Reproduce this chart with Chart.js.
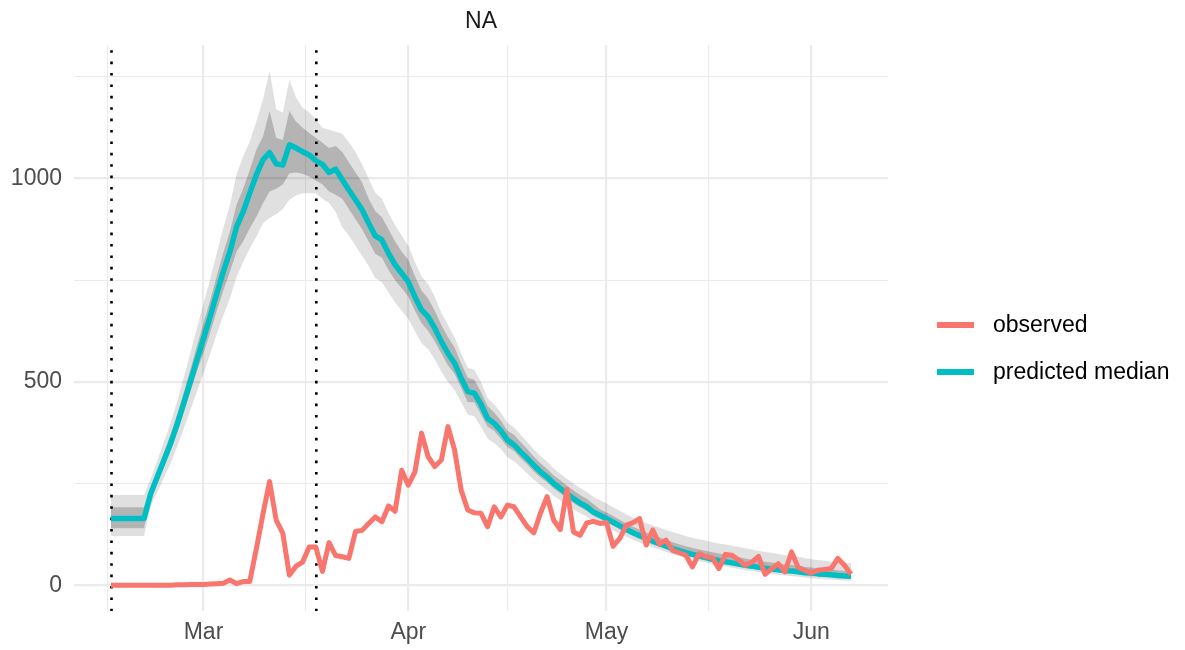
<!DOCTYPE html>
<html>
<head>
<meta charset="utf-8">
<script src="https://cdn.jsdelivr.net/npm/chart.js@4/dist/chart.umd.min.js"></script>
<style>
  html, body { margin: 0; padding: 0; background: #fff; }
</style>
</head>
<body>
<canvas id="chart" width="1185" height="650"></canvas>
<script>
// one value per day, starting at firstDate
const firstDate = '2020-02-16';

const observed = [
  0, 0, 0, 0, 0, 0, 0, 0, 0, 0,
  1, 1, 2, 2,
  2, 3, 4, 5, 13, 4, 9, 9,
  90, 175, 255, 160, 128,
  25, 47, 57, 94, 94, 34, 105, 73, 70, 66,
  132, 135, 152, 168, 156, 195, 182, 283, 246, 279,
  374, 316, 292, 308, 390, 333, 234, 185, 178, 177,
  144, 193, 168, 197, 193, 168, 144, 129, 177, 218,
  160, 137, 236, 131, 123, 153, 157, 152, 154, 96,
  115, 148, 154, 164, 99, 136, 101, 111, 86, 80,
  74, 45, 78, 70, 68, 41, 76, 74, 62, 49,
  57, 71, 27, 41, 53, 33, 82, 44, 37, 30,
  37, 39, 41, 66, 49, 27
];

const predictedMedian = [
  164, 164, 164, 164, 164, 164,
  225, 266, 307, 348, 395, 447, 500, 554,
  607, 660, 717, 771, 820, 881, 918, 964, 1009, 1046,
  1064, 1036, 1033, 1083, 1075, 1066, 1058, 1044, 1035, 1015,
  1023, 997, 972, 948, 923, 890, 859, 849, 816, 788,
  767, 746, 709, 677, 660, 632, 599, 570, 546, 509,
  476, 472, 445, 410, 398, 380, 357, 345, 328, 312,
  295, 279, 266, 250, 238, 225, 213, 202, 193, 180,
  172, 164, 155, 146, 137, 129, 122, 115, 108, 102,
  96, 90, 85, 80, 76, 72, 68, 64, 61, 58,
  55, 52, 49, 47, 44, 42, 40, 38, 36, 35,
  33, 31, 30, 28, 27, 26, 24, 23, 22
];

const upper95 = [
  222, 222, 222, 222, 222, 222,
  262, 306, 352, 398, 452, 510, 570, 632,
  692, 752, 817, 879, 935, 1010, 1054, 1091, 1140, 1194,
  1265, 1170, 1162, 1243, 1199, 1174, 1162, 1145, 1125, 1120,
  1115, 1110, 1090, 1065, 1035, 1000, 965, 950, 915, 885,
  860, 835, 795, 760, 740, 710, 670, 640, 610, 570,
  535, 530, 500, 460, 445, 425, 400, 388, 370, 352,
  334, 318, 304, 287, 274, 262, 250, 239, 230, 217,
  209, 201, 192, 183, 174, 166, 160, 153, 147, 142,
  136, 131, 126, 121, 117, 113, 110, 106, 103, 100,
  97, 94, 91, 88, 85, 82, 80, 77, 74, 72,
  70, 67, 64, 62, 60, 58, 57, 55, 54
];

const upper50 = [
  192, 192, 192, 192, 192, 192,
  240, 283, 326, 370, 420, 474, 530, 588,
  645, 700, 760, 818, 870, 935, 975, 1021, 1071, 1103,
  1166, 1100, 1095, 1166, 1140, 1125, 1112, 1100, 1088, 1075,
  1080, 1065, 1040, 1015, 990, 950, 920, 905, 875, 845,
  820, 800, 760, 725, 705, 675, 640, 610, 585, 545,
  510, 505, 475, 440, 425, 405, 380, 370, 352, 335,
  316, 300, 286, 270, 258, 245, 233, 222, 213, 200,
  187, 179, 170, 161, 152, 144, 137, 130, 124, 118,
  112, 106, 101, 96, 92, 88, 85, 81, 78, 75,
  72, 69, 66, 63, 60, 58, 56, 54, 51, 50,
  48, 45, 44, 42, 40, 39, 37, 36, 35
];

const lower50 = [
  140, 140, 140, 140, 140, 140,
  214, 253, 292, 331, 375, 425, 475, 526,
  571, 620, 674, 725, 771, 820, 845, 878, 906, 939,
  968, 975, 985, 1013, 1015, 1012, 1005, 995, 985, 968,
  960, 950, 925, 900, 875, 845, 815, 805, 775, 750,
  730, 710, 675, 645, 625, 600, 570, 540, 520, 485,
  450, 450, 420, 390, 380, 360, 340, 330, 312, 297,
  280, 265, 253, 238, 226, 214, 202, 192, 183, 171,
  163, 155, 147, 138, 130, 122, 115, 108, 102, 96,
  90, 84, 79, 74, 70, 66, 62, 58, 55, 52,
  49, 46, 43, 41, 38, 36, 34, 32, 30, 29,
  27, 25, 24, 22, 21, 20, 19, 18, 17
];

const lower95 = [
  121, 121, 121, 121, 121, 121,
  194, 229, 264, 299, 340, 384, 430, 476,
  522, 568, 617, 663, 705, 758, 795, 828, 857, 890,
  903, 912, 925, 948, 958, 964, 964, 964, 950, 940,
  918, 880, 860, 835, 810, 785, 755, 745, 720, 695,
  675, 655, 625, 595, 580, 555, 525, 500, 480, 450,
  420, 415, 390, 360, 350, 335, 315, 305, 290, 275,
  260, 246, 234, 220, 209, 198, 187, 177, 169, 158,
  150, 143, 135, 127, 119, 112, 105, 99, 93, 88,
  82, 77, 72, 67, 63, 59, 56, 52, 49, 46,
  43, 40, 37, 35, 32, 30, 28, 26, 24, 23,
  21, 19, 17, 16, 15, 14, 13, 12, 11
];

const interventionDates = ['2020-02-16', '2020-03-18'];
const monthStarts = ['2020-02-01', '2020-03-01', '2020-04-01', '2020-05-01', '2020-06-01', '2020-07-01'];
const monthNames = ['Jan', 'Feb', 'Mar', 'Apr', 'May', 'Jun', 'Jul', 'Aug', 'Sep', 'Oct', 'Nov', 'Dec'];
const yMajor = [0, 500, 1000];
const yMinor = [250, 750, 1250];

const titleText = 'NA';
const GRID = '#EBEBEB';
const FONT = '"Liberation Sans", Arial, sans-serif';

const dayNum = s => Date.parse(s + 'T00:00:00Z') / 864e5;
const x0 = dayNum(firstDate);
const xs = observed.map((v, i) => x0 + i);
const pts = arr => arr.map((v, i) => ({ x: xs[i], y: v }));

// ggplot style 5% expansion
const xSpan = xs[xs.length - 1] - xs[0];
const xMin = xs[0] - 0.05 * xSpan;
const xMax = xs[xs.length - 1] + 0.05 * xSpan;
const yLo = Math.min(...observed, ...lower95), yHi = Math.max(...observed, ...upper95);
const yMin = yLo - 0.05 * (yHi - yLo);
const yMax = yHi + 0.05 * (yHi - yLo);

const majorX = monthStarts.map(dayNum);
const minorX = majorX.slice(1).map((v, i) => (v + majorX[i]) / 2);
const xLabels = {};
monthStarts.forEach(s => { xLabels[dayNum(s)] = monthNames[Number(s.slice(5, 7)) - 1]; });

const decorations = {
  id: 'decorations',
  beforeDatasetsDraw(chart) {
    const { ctx, chartArea: a, scales: { x } } = chart;
    ctx.save();
    ctx.strokeStyle = '#000';
    ctx.lineWidth = 2.6;
    ctx.lineCap = 'butt';
    ctx.setLineDash([2.6, 8.8]);
    ctx.lineDashOffset = 6.2;
    interventionDates.forEach(d => {
      const px = x.getPixelForValue(dayNum(d)) + 0.5;
      ctx.beginPath();
      ctx.moveTo(px, a.top);
      ctx.lineTo(px, a.bottom);
      ctx.stroke();
    });
    ctx.restore();
  },
  afterDraw(chart) {
    const { ctx, chartArea: a } = chart;
    ctx.save();
    ctx.font = '23px ' + FONT;
    ctx.textBaseline = 'middle';
    // strip title
    ctx.fillStyle = '#1A1A1A';
    ctx.textAlign = 'center';
    ctx.fillText(titleText, (a.left + a.right) / 2, 22);
    // legend
    const items = chart.data.datasets.filter(d => d.showInLegend);
    items.forEach((d, i) => {
      const y = 325 + i * 47;
      ctx.strokeStyle = d.borderColor;
      ctx.lineWidth = 6;
      ctx.beginPath();
      ctx.moveTo(937, y);
      ctx.lineTo(974, y);
      ctx.stroke();
      ctx.fillStyle = '#000';
      ctx.textAlign = 'left';
      ctx.fillText(d.label, 993, y + 1);
    });
    ctx.restore();
  }
};

const isMajorX = v => majorX.includes(v);
const isMajorY = v => yMajor.includes(v);

new Chart(document.getElementById('chart').getContext('2d'), {
  type: 'line',
  data: {
    datasets: [
      { label: 'upper 95', data: pts(upper95), fill: '+1', backgroundColor: 'rgba(0,0,0,0.12)',
        borderColor: 'transparent', borderWidth: 0, pointRadius: 0, order: 4 },
      { label: 'lower 95', data: pts(lower95), fill: false,
        borderColor: 'transparent', borderWidth: 0, pointRadius: 0, order: 4 },
      { label: 'upper 50', data: pts(upper50), fill: '+1', backgroundColor: 'rgba(0,0,0,0.2)',
        borderColor: 'transparent', borderWidth: 0, pointRadius: 0, order: 3 },
      { label: 'lower 50', data: pts(lower50), fill: false,
        borderColor: 'transparent', borderWidth: 0, pointRadius: 0, order: 3 },
      { label: 'observed', data: pts(observed), borderColor: '#F8766D', borderWidth: 5,
        pointRadius: 0, fill: false, borderJoinStyle: 'round', order: 1, showInLegend: true },
      { label: 'predicted median', data: pts(predictedMedian), borderColor: '#00BFC4', borderWidth: 5.5,
        pointRadius: 0, fill: false, borderJoinStyle: 'round', order: 2, showInLegend: true }
    ]
  },
  options: {
    responsive: false,
    animation: false,
    devicePixelRatio: 1,
    layout: { padding: { top: 45, right: 297, bottom: 0, left: 0 } },
    plugins: {
      legend: { display: false },
      title: { display: false },
      tooltip: { enabled: false }
    },
    scales: {
      x: {
        type: 'linear',
        min: xMin,
        max: xMax,
        afterBuildTicks: s => {
          s.ticks = [...majorX, ...minorX].filter(v => v >= xMin && v <= xMax)
            .sort((a, b) => a - b).map(v => ({ value: v }));
        },
        afterFit: s => { s.height = 39; },
        ticks: {
          autoSkip: false,
          maxRotation: 0,
          padding: 8,
          color: '#4D4D4D',
          font: { family: FONT, size: 23 },
          callback: v => xLabels[v] || ''
        },
        grid: {
          drawTicks: false,
          color: GRID,
          lineWidth: ctx => (ctx.tick && isMajorX(ctx.tick.value) ? 2.2 : 1.1)
        },
        border: { display: false }
      },
      y: {
        min: yMin,
        max: yMax,
        afterBuildTicks: s => {
          s.ticks = [...yMajor, ...yMinor].sort((a, b) => a - b).map(v => ({ value: v }));
        },
        afterFit: s => { s.width = 74; },
        ticks: {
          padding: 12,
          color: '#4D4D4D',
          font: { family: FONT, size: 23 },
          callback: v => (isMajorY(v) ? String(v) : '')
        },
        grid: {
          drawTicks: false,
          color: GRID,
          lineWidth: ctx => (ctx.tick && isMajorY(ctx.tick.value) ? 2.2 : 1.1)
        },
        border: { display: false }
      }
    }
  },
  plugins: [decorations]
});
</script>
</body>
</html>
